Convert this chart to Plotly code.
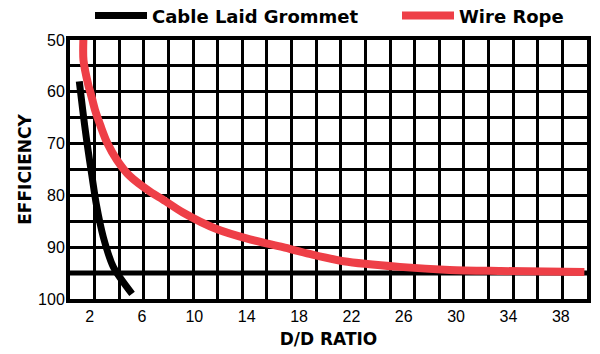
import plotly.graph_objects as go

# Cable Laid Grommet (D/d ratio vs efficiency)
grommet_x = [1.21, 1.47, 1.80, 2.18, 2.52, 3.04, 3.81, 5.24]
grommet_y = [58.0, 63.5, 69.9, 76.3, 81.85, 88.0, 93.8, 99.0]

# Wire Rope
rope_x = [1.52, 1.53, 1.90, 2.08, 2.41, 2.85, 3.35, 4.07, 5.08, 6.74, 7.6, 9.13, 11.7,
          14.25, 16.77, 18.8, 21.4, 25.7, 29.5, 33.4, 39.8]
rope_y = [50.0, 53.9, 58.7, 60.3, 63.5, 66.7, 69.9, 73.1, 76.3, 79.5, 80.8, 83.3, 86.5,
          88.5, 90.0, 91.3, 92.7, 93.8, 94.4, 94.6, 94.8]

x_ticks = [2, 6, 10, 14, 18, 22, 26, 30, 34, 38]
y_ticks = [50, 60, 70, 80, 90, 100]
x_range = [0.5, 40]
y_range = [100, 50]
n_columns = 21

fig = go.Figure()
fig.add_trace(go.Scatter(x=grommet_x, y=grommet_y, mode="lines", name="Cable Laid Grommet",
                         legend="legend",
                         line=dict(color="black", width=7, shape="spline", smoothing=0.8)))
fig.add_trace(go.Scatter(x=rope_x, y=rope_y, mode="lines", name="Wire Rope",
                         legend="legend2",
                         line=dict(color="#EE3F47", width=8, shape="spline", smoothing=0.8)))

tick_font = dict(family="Liberation Sans, Arial, sans-serif", size=16, color="black")
title_font = dict(family="DejaVu Sans, sans-serif", size=17, color="black", weight="bold")
legend_font = dict(family="DejaVu Sans, sans-serif", size=18, color="black", weight="bold")

legend_common = dict(orientation="h", xanchor="left", y=1.093, yanchor="middle",
                     font=legend_font, itemwidth=52, bgcolor="rgba(0,0,0,0)", borderwidth=0)

fig.update_layout(
    template="none",
    width=600, height=354,
    margin=dict(l=70, r=13, t=40, b=55, autoexpand=False),
    paper_bgcolor="white", plot_bgcolor="white",
    showlegend=True,
    legend=dict(x=0.0387, **legend_common),
    legend2=dict(x=0.6325, **legend_common),
    xaxis=dict(range=x_range, tickmode="array", tickvals=x_ticks, automargin=True,
               showgrid=False, zeroline=False,
               showline=True, mirror=True, linecolor="black", linewidth=4,
               ticks="", tickfont=tick_font,
               minor=dict(tick0=x_range[0], dtick=(x_range[1] - x_range[0]) / n_columns,
                          showgrid=True, gridcolor="black", gridwidth=3, ticks=""),
               title=dict(text="D/D RATIO", font=title_font, standoff=10)),
    yaxis=dict(range=y_range, tickmode="array", tickvals=y_ticks, automargin=True,
               showgrid=True, gridcolor="black", gridwidth=3, zeroline=False,
               showline=True, mirror=True, linecolor="black", linewidth=4,
               ticks="", tickfont=tick_font, ticklabelstandoff=-2,
               minor=dict(dtick=5, tick0=50, showgrid=True, gridcolor="black", gridwidth=3, ticks=""),
               title=dict(text="EFFICIENCY", font=title_font, standoff=3)),
    shapes=[dict(type="line", xref="paper", x0=0, x1=1, yref="y", y0=95, y1=95,
                 line=dict(color="black", width=5), layer="below")],
)

fig.write_html("out.html")
